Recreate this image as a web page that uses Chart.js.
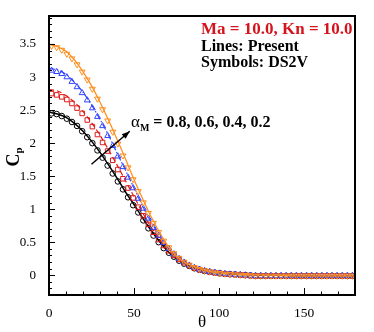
<!DOCTYPE html>
<html><head><meta charset="utf-8">
<script src="https://cdn.jsdelivr.net/npm/chart.js@4/dist/chart.umd.min.js"></script>
<style>html,body{margin:0;padding:0;background:#fff;}canvas{display:block;}</style>
</head><body><canvas id="c" width="374" height="332"></canvas>
<script>
const SERIF = '"Liberation Serif", "Times New Roman", serif';

const xTicks = [0, 50, 100, 150];
const yTicks = [0, 0.5, 1, 1.5, 2, 2.5, 3, 3.5];

const thetaLine = [0,5,10,15,20,25,30,35,40,45,50,55,60,65,70,75,80,85,90,95,100,105,110,115,120,125,130,135,140,145,150,155,160,165,170,175,180];
const orangeLine = [3.49,3.46,3.39,3.26,3.08,2.87,2.62,2.35,2.06,1.76,1.45,1.16,0.89,0.65,0.44,0.29,0.19,0.13,0.085,0.055,0.035,0.022,0.015,0.01,0.006,0.003,0.001,0,-0.005,-0.01,-0.01,-0.01,-0.01,-0.01,-0.01,-0.01,-0.01];
const blueLine   = [3.13,3.11,3.04,2.92,2.77,2.58,2.36,2.12,1.85,1.59,1.32,1.05,0.81,0.60,0.41,0.28,0.185,0.125,0.082,0.053,0.034,0.022,0.015,0.01,0.006,0.003,0.001,0,-0.005,-0.01,-0.01,-0.01,-0.01,-0.01,-0.01,-0.01,-0.01];
const redLine    = [2.81,2.79,2.72,2.62,2.48,2.31,2.12,1.90,1.67,1.43,1.19,0.95,0.73,0.55,0.39,0.27,0.18,0.12,0.08,0.052,0.033,0.021,0.015,0.01,0.006,0.003,0.001,0,-0.005,-0.01,-0.01,-0.01,-0.01,-0.01,-0.01,-0.01,-0.01];
const blackLine  = [2.47,2.44,2.39,2.30,2.18,2.03,1.86,1.67,1.47,1.26,1.07,0.87,0.68,0.51,0.36,0.25,0.17,0.115,0.078,0.05,0.032,0.021,0.014,0.009,0.005,0.003,0.001,0,-0.005,-0.01,-0.01,-0.01,-0.01,-0.01,-0.01,-0.01,-0.01];

const thetaSym = [1.5,4.5,7.5,10.5,13.5,16.5,19.5,22.5,25.5,28.5,31.5,34.5,37.5,40.5,43.5,46.5,49.5,52.5,55.5,58.5,61.5,64.5,67.5,70.5,73.5,76.5,79.5,82.5,85.5,88.5,91.5,94.5,97.5,100.5,103.5,106.5,109.5,112.5,115.5,118.5,121.5,124.5,127.5,130.5,133.5,136.5,139.5,142.5,145.5,148.5,151.5,154.5,157.5,160.5,163.5,166.5,169.5,172.5,175.5,178.5];
const orangeSym = [3.47,3.45,3.41,3.35,3.28,3.19,3.08,2.96,2.82,2.67,2.51,2.34,2.17,1.99,1.81,1.63,1.45,1.27,1.10,0.94,0.79,0.65,0.52,0.42,0.33,0.26,0.20,0.155,0.12,0.09,0.07,0.055,0.04,0.03,0.02,0.015,0.01,0.005,0,-0.005,-0.01,-0.01,-0.01,-0.01,-0.01,-0.01,-0.01,-0.01,-0.01,-0.01,-0.01,-0.01,-0.01,-0.01,-0.01,-0.01,-0.01,-0.01,-0.01,-0.01];
const blueSym   = [3.10,3.08,3.05,3.00,2.93,2.85,2.76,2.65,2.53,2.40,2.26,2.11,1.96,1.80,1.64,1.48,1.32,1.16,1.01,0.86,0.72,0.60,0.49,0.40,0.32,0.25,0.195,0.15,0.115,0.088,0.068,0.052,0.04,0.03,0.02,0.014,0.01,0.005,0,-0.005,-0.01,-0.01,-0.01,-0.01,-0.01,-0.01,-0.01,-0.01,-0.01,-0.01,-0.01,-0.01,-0.01,-0.01,-0.01,-0.01,-0.01,-0.01,-0.01,-0.01];
const redSym    = [2.75,2.73,2.70,2.66,2.60,2.53,2.45,2.35,2.25,2.13,2.01,1.88,1.74,1.60,1.46,1.32,1.17,1.03,0.90,0.77,0.65,0.54,0.45,0.37,0.30,0.24,0.19,0.145,0.11,0.085,0.065,0.05,0.038,0.028,0.02,0.014,0.01,0.005,0,-0.005,-0.01,-0.01,-0.01,-0.01,-0.01,-0.01,-0.01,-0.01,-0.01,-0.01,-0.01,-0.01,-0.01,-0.01,-0.01,-0.01,-0.01,-0.01,-0.01,-0.01];
const blackSym  = [2.45,2.44,2.41,2.37,2.32,2.26,2.18,2.09,2.00,1.89,1.78,1.66,1.54,1.42,1.30,1.18,1.06,0.95,0.83,0.71,0.60,0.50,0.41,0.34,0.28,0.22,0.175,0.14,0.105,0.082,0.063,0.05,0.038,0.028,0.02,0.014,0.01,0.005,0,-0.005,-0.01,-0.01,-0.01,-0.01,-0.01,-0.01,-0.01,-0.01,-0.01,-0.01,-0.01,-0.01,-0.01,-0.01,-0.01,-0.01,-0.01,-0.01,-0.01,-0.01];

const C_ORANGE = '#ff8c1a', C_BLUE = '#3344ff', C_RED = '#e01818', C_BLACK = '#000000';

const pts = (xs, ys) => xs.map((x, i) => ({x, y: ys[i]}));

function lineDs(data, color, dash, width, order) {
  return {data: pts(thetaLine, data), showLine: true, borderColor: color, borderWidth: width,
    borderDash: dash, pointRadius: 0, fill: false, tension: 0.3, order};
}
function symDs(data, color, style, rot, r, order) {
  return {data: pts(thetaSym, data), showLine: false, borderColor: color, backgroundColor: 'rgba(0,0,0,0)',
    pointStyle: style, pointRotation: rot, pointRadius: r, pointBorderWidth: 1, order};
}

const decor = {
  id: 'decor',
  afterDatasetsDraw(chart) {
    const {ctx, chartArea: a, scales: {x, y}} = chart;
    ctx.save();
    ctx.strokeStyle = '#000'; ctx.lineWidth = 1;
    ctx.beginPath();
    for (let v = 0; v <= 180; v += 10) {
      const px = Math.round(x.getPixelForValue(v)) + 0.5;
      const L = v % 50 === 0 ? 7 : 3.5;
      ctx.moveTo(px, a.bottom); ctx.lineTo(px, a.bottom - L);
    }
    for (let i = -2; i <= 39; i++) {
      const py = Math.round(y.getPixelForValue(i / 10)) + 0.5;
      const L = i % 5 === 0 ? 6 : 3;
      ctx.moveTo(a.left, py); ctx.lineTo(a.left + L, py);
    }
    ctx.stroke();
    ctx.lineWidth = 2;
    ctx.strokeRect(a.left, a.top, a.right - a.left, a.bottom - a.top);

    // annotation texts
    ctx.textBaseline = 'alphabetic'; ctx.textAlign = 'left';
    ctx.fillStyle = '#d4141c';
    ctx.font = 'bold 17px ' + SERIF;
    ctx.fillText('Ma = 10.0, Kn = 10.0', 201, 34);
    ctx.fillStyle = '#000';
    ctx.font = 'bold 16px ' + SERIF;
    ctx.fillText('Lines: Present', 201, 51);
    ctx.fillText('Symbols: DS2V', 201, 67);

    // alpha label
    let tx = 131; const by = 127;
    ctx.font = '17px ' + SERIF;
    ctx.fillText('\u03b1', tx, by); tx += ctx.measureText('\u03b1').width;
    ctx.font = 'bold 10px ' + SERIF;
    ctx.fillText('M', tx, by + 4); tx += ctx.measureText('M').width;
    ctx.font = 'bold 16px ' + SERIF;
    ctx.fillText(' = 0.8, 0.6, 0.4, 0.2', tx, by);

    // arrow (anchored in data space)
    const x0 = x.getPixelForValue(25), y0 = y.getPixelForValue(1.68);
    const x1 = x.getPixelForValue(47.5), y1 = y.getPixelForValue(2.18);
    ctx.lineWidth = 1.5;
    ctx.beginPath(); ctx.moveTo(x0, y0); ctx.lineTo(x1, y1); ctx.stroke();
    const ang = Math.atan2(y1 - y0, x1 - x0), hl = 8, hw = 3;
    ctx.beginPath();
    ctx.moveTo(x1, y1);
    ctx.lineTo(x1 - hl * Math.cos(ang) + hw * Math.sin(ang), y1 - hl * Math.sin(ang) - hw * Math.cos(ang));
    ctx.lineTo(x1 - hl * Math.cos(ang) - hw * Math.sin(ang), y1 - hl * Math.sin(ang) + hw * Math.cos(ang));
    ctx.closePath(); ctx.fill();

    // axis titles
    ctx.font = '17px ' + SERIF; ctx.textAlign = 'center';
    ctx.fillText('\u03b8', (a.left + a.right) / 2, 327);

    ctx.save();
    ctx.translate(19, 157);
    ctx.rotate(-Math.PI / 2);
    ctx.textAlign = 'left';
    ctx.font = 'bold 18px ' + SERIF;
    const cw = ctx.measureText('C').width;
    ctx.fillText('C', -cw / 2 - 3, 0);
    ctx.font = 'bold 11px ' + SERIF;
    ctx.fillText('p', cw / 2 - 3, 3);
    ctx.restore();
    ctx.restore();
  }
};

new Chart(document.getElementById('c'), {
  type: 'scatter',
  data: {datasets: [
    symDs(orangeSym, C_ORANGE, 'triangle', 180, 3.4, 1),
    lineDs(orangeLine, C_ORANGE, [], 1.2, 2),
    symDs(blueSym, C_BLUE, 'triangle', 0, 3.4, 3),
    lineDs(blueLine, C_BLUE, [6, 2, 1.5, 2], 1.2, 4),
    symDs(redSym, C_RED, 'rect', 0, 3.2, 5),
    lineDs(redLine, C_RED, [5, 3], 1.2, 6),
    symDs(blackSym, C_BLACK, 'circle', 0, 2.8, 7),
    lineDs(blackLine, C_BLACK, [], 1.5, 8)
  ]},
  options: {
    responsive: false, devicePixelRatio: 1, animation: false,
    layout: {padding: {left: 0, right: 19, top: 16, bottom: 0}},
    plugins: {legend: {display: false}, tooltip: {enabled: false}},
    scales: {
      x: {type: 'linear', min: 0, max: 180,
        grid: {display: false}, border: {display: false},
        afterBuildTicks: s => { s.ticks = xTicks.map(v => ({value: v})); },
        afterFit: s => { s.height = 37; },
        ticks: {font: {family: SERIF, size: 13.5}, color: '#000', padding: 2, maxRotation: 0, autoSkip: false,
          callback: v => String(v)}},
      y: {type: 'linear', min: -0.3, max: 3.925,
        grid: {display: false}, border: {display: false},
        afterBuildTicks: s => { s.ticks = yTicks.map(v => ({value: v})); },
        afterFit: s => { s.width = 49; },
        ticks: {font: {family: SERIF, size: 13}, color: '#000', padding: 5, autoSkip: false,
          callback: v => String(v)}}
    }
  },
  plugins: [decor]
});
</script></body></html>
